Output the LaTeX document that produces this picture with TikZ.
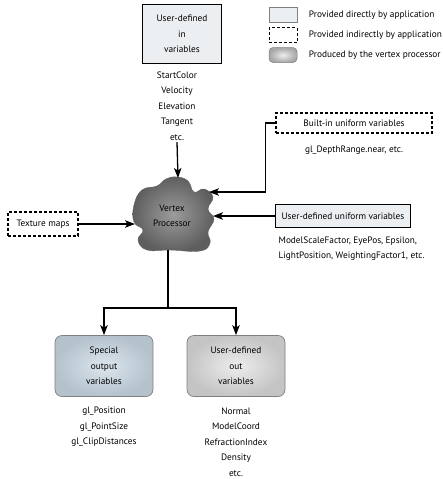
\documentclass[tikz,border=0pt]{standalone}
\usepackage{fontspec}
\setmainfont{PT Sans}
\definecolor{inbg}{HTML}{ECEFF2}
\definecolor{specialin}{HTML}{DCE6EE}
\definecolor{specialout}{HTML}{B4C2CC}
\definecolor{outin}{HTML}{EDEDED}
\definecolor{outout}{HTML}{C4C4C4}
\definecolor{bloblight}{HTML}{9C9C9C}
\definecolor{blobdark}{HTML}{5E5E5E}
\usetikzlibrary{arrows.meta,positioning}

\begin{document}
\begin{tikzpicture}[x=1pt, y=-1pt, >={Stealth[length=10pt,width=7.5pt,inset=2.5pt]},
    font=\fontsize{9.3}{15.5}\selectfont, line width=1.3pt,
    appbox/.style={draw, line width=1.4pt, fill=inbg, align=center},
    indbox/.style={draw, line width=1.2pt, dash pattern=on 3pt off 2pt, fill=white, align=center},
    outbox/.style={draw=gray, line width=0.7pt, rounded corners=7pt, align=center,
                   minimum width=98pt, minimum height=61pt, shading=radial},
    varlist/.style={align=center, inner sep=1pt},
    keybox/.style={minimum width=28pt, minimum height=15pt, inner sep=0pt}]

  \useasboundingbox (0,0) rectangle (442,479);

  % legend
  \node[keybox, draw=gray, line width=0.7pt, fill=inbg] (keydirect) at (283,15) {};
  \node[keybox, draw, line width=1pt, dash pattern=on 3pt off 2pt] (keyindirect) at (283,35) {};
  \node[keybox, draw=gray, line width=0.5pt, rounded corners=4pt, shading=radial,
        inner color=outin, outer color=black!35] (keyproduced) at (283,55) {};
  \node[anchor=west] (keydirecttxt) at (305,15) {Provided directly by application};
  \node[anchor=west] (keyindirecttxt) at (305,35) {Provided indirectly by application};
  \node[anchor=west] (keyproducedtxt) at (305,55) {Produced by the vertex processor};

  % inputs
  \node[appbox, minimum width=79pt, minimum height=59pt] (invars) at (182,34) {User-defined\\in\\variables};
  \node[varlist] (inlist) at (177,106) {StartColor\\Velocity\\Elevation\\Tangent\\etc.};

  \node[indbox, minimum width=156pt, minimum height=20pt] (builtin) at (354,123) {Built-in uniform variables};
  \node (builtinlist) at (354,150) {gl\_DepthRange.near, etc.};

  \node[appbox, minimum width=135pt, minimum height=23pt] (uniform) at (343,216) {User-defined uniform variables};
  \node[align=left, anchor=north west, inner sep=1pt] (uniformlist) at (277,235)
    {ModelScaleFactor, EyePos, Epsilon,\\LightPosition, WeightingFactor1, etc.};

  \node[indbox, minimum width=70pt, minimum height=24pt] (texture) at (43,224) {Texture maps};

  % vertex processor blob
  \shade[inner color=bloblight, outer color=blobdark, draw=black!60, line width=0.4pt]
    plot[smooth cycle, tension=0.75] coordinates {
      (177,177) (188,181) (194,192) (204,189) (213,197) (208,209) (214,219)
      (208,232) (210,243) (200,251) (170,250) (147,250) (138,240) (143,230)
      (134,222) (134,205) (142,190) (157,186) (166,179)};
  \node[align=center] (vertex) at (172,216) {Vertex\\Processor};
  \coordinate (vptop) at (178,178);
  \coordinate (vpne) at (209,192);
  \coordinate (vpeast) at (213,216);
  \coordinate (vpwest) at (135,224);
  \coordinate (vpbottom) at (168,250);
  \coordinate (fork) at (168,308);

  % outputs
  \node[outbox, inner color=specialin, outer color=specialout] (special) at (104,366) {Special\\output\\variables};
  \node[outbox, inner color=outin, outer color=outout] (userout) at (236,366) {User-defined\\out\\variables};
  \node[varlist] (speciallist) at (104,427) {gl\_Position\\gl\_PointSize\\gl\_ClipDistances};
  \node[varlist] (outlist) at (236,442) {Normal\\ModelCoord\\RefractionIndex\\Density\\etc.};

  % connectors
  \draw[->] (inlist.south) -- (vptop);
  \draw[->] (builtin.west) -- ++(-10,0) |- (vpne);
  \draw[->] (uniform) -- (vpeast);
  \draw[->] (texture) -- (vpwest);
  \draw (vpbottom) -- (fork);
  \draw[->] (fork) -| (special.north);
  \draw[->] (fork) -| (userout.north);
\end{tikzpicture}
\end{document}
